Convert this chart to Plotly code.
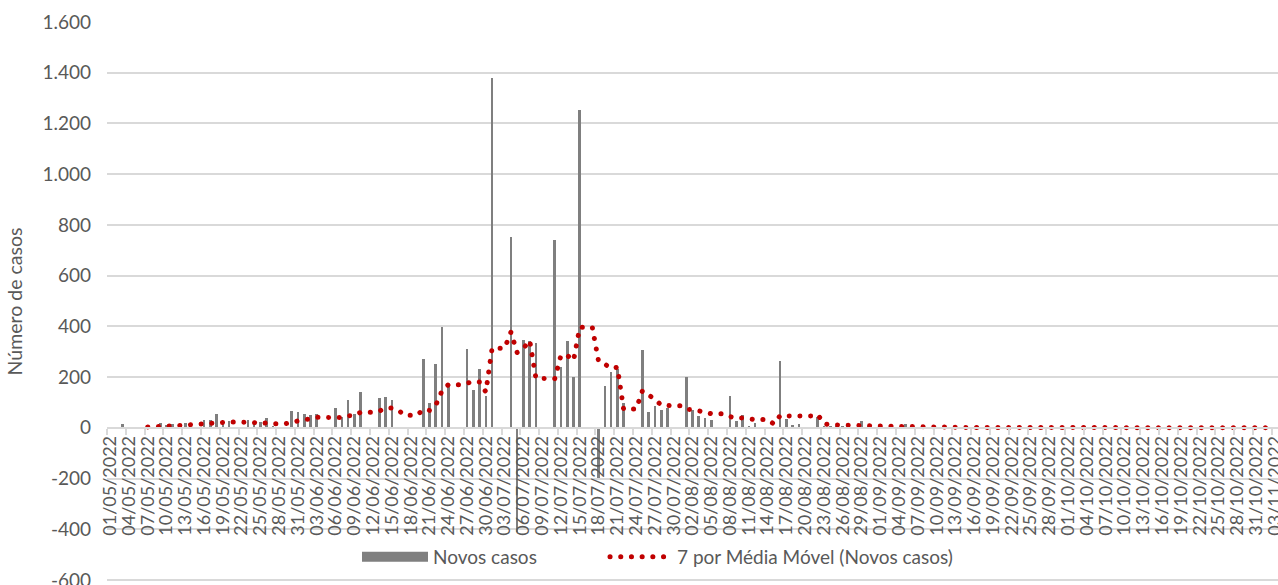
import pandas as pd
import plotly.express as px
import plotly.graph_objects as go

# ---------------- data ----------------
dates = pd.date_range("2022-05-01", "2022-11-03", freq="D")

# daily new cases (Sun..Sat rows)
novos_casos = [
    0, 2, 14, 3, 3, 3, 0,            # 01/05 - 07/05
    0, 18, 12, 16, 14, 18, 0,        # 08/05 - 14/05
    0, 32, 30, 54, 16, 28, 0,        # 15/05 - 21/05
    0, 30, 16, 24, 38, 7, 0,         # 22/05 - 28/05
    0, 67, 62, 55, 50, 54, 0,        # 29/05 - 04/06
    0, 80, 41, 110, 54, 142, 0,      # 05/06 - 11/06
    0, 117, 121, 110, 0, 0, 0,       # 12/06 - 18/06
    0, 272, 99, 252, 397, 170, 0,    # 19/06 - 25/06
    0, 312, 151, 233, 124, 1378, 0,  # 26/06 - 02/07
    0, 752, -410, 347, 343, 335, 0,  # 03/07 - 09/07
    0, 742, 238, 341, 200, 1252, 0,  # 10/07 - 16/07
    0, -197, 163, 222, 231, 97, 0,   # 17/07 - 23/07
    0, 308, 64, 87, 71, 78, 0,       # 24/07 - 30/07
    0, 202, 71, 47, 39, 29, 0,       # 31/07 - 06/08
    0, 124, 28, 50, 8, 18, 0,        # 07/08 - 13/08
    0, 0, 264, 34, 12, 16, 0,        # 14/08 - 20/08
    0, 41, 8, 6, 4, 6, 0,            # 21/08 - 27/08
    0, 28, 5, 3, 4, 3, 0,            # 28/08 - 03/09
    0, 17, 2, 3, 1, 2, 0,            # 04/09 - 10/09
    0, 3, 1, 2, 1, 1, 0,             # 11/09 - 17/09
    0, 2, 1, 1, 2, 0, 0,             # 18/09 - 24/09
    0, 2, 1, 0, 1, 1, 0,             # 25/09 - 01/10
    0, 1, 2, 1, 0, 1, 0,             # 02/10 - 08/10
    0, 2, 1, 0, 1, 1, 0,             # 09/10 - 15/10
    0, 1, 1, 1, 0, 1, 0,             # 16/10 - 22/10
    0, 1, 0, 1, 1, 0, 0,             # 23/10 - 29/10
    0, 1, 0, 1, 0,                   # 30/10 - 03/11
]

media_movel_janela = 7
nome_barras = "Novos casos"
nome_media = "7 por Média Móvel (Novos casos)"
titulo_y = "Número de casos"

y_tick_vals = [-600, -400, -200, 0, 200, 400, 600, 800, 1000, 1200, 1400, 1600]
y_tick_text = ["-600", "-400", "-200", "0", "200", "400", "600", "800",
               "1.000", "1.200", "1.400", "1.600"]

x_tick_dates = dates[::3]
x_tick_text = [d.strftime("%d/%m/%Y") for d in x_tick_dates]

# ---------------- figure ----------------
df = pd.DataFrame({"data": dates, "casos": novos_casos})

# moving-average trendline computed by plotly express (like Excel's trendline)
trend_fig = px.scatter(df, x="data", y="casos", trendline="rolling",
                       trendline_options=dict(window=media_movel_janela))
trend = trend_fig.data[1]

DAY = 86400000
GRID = "#d9d9d9"
TXT = "#595959"
BAR = "#7f7f7f"
RED = "#c00000"
FONT = "Lato"

fig = go.Figure()
fig.add_trace(go.Bar(
    x=df["data"], y=df["casos"], name=nome_barras,
    marker=dict(color=BAR, line=dict(width=0)),
    width=0.42 * DAY, showlegend=False,
))
fig.add_trace(go.Scatter(
    x=trend.x, y=trend.y, mode="lines", name=nome_media,
    line=dict(color=RED, width=5, dash="dot"),
    legend="legend2",
))
# legend proxy for the bars (wide grey swatch as in the original legend)
fig.add_trace(go.Scatter(
    x=[None], y=[None], mode="lines", name=nome_barras,
    line=dict(color=BAR, width=13), legend="legend",
))

legend_common = dict(
    orientation="h", yanchor="middle", xanchor="left", y=0.043,
    itemwidth=66, bgcolor="rgba(0,0,0,0)",
    font=dict(family=FONT, size=19, color=TXT),
)

fig.update_layout(
    width=1278, height=585,
    margin=dict(l=107, r=0, t=22, b=4, autoexpand=False),
    paper_bgcolor="white", plot_bgcolor="white",
    font=dict(family=FONT, size=18, color=TXT),
    bargap=0,
    showlegend=True,
    legend=dict(x=(357 - 107) / 1171, **legend_common),
    legend2=dict(x=(605 - 107) / 1171, **{**legend_common, "itemwidth": 62}),
    xaxis=dict(
        type="date",
        range=["2022-04-30 12:00", "2022-11-03 12:00"],
        anchor="free", position=(581 - 428) / 559,
        tickmode="array", tickvals=x_tick_dates, ticktext=x_tick_text,
        tickangle=-90, ticks="", ticklabeloverflow="allow",
        tickfont=dict(family=FONT, size=18, color=TXT),
        showline=True, linecolor=GRID, linewidth=1.5,
        showgrid=False, zeroline=False,
        minor=dict(ticks="outside", tick0="2022-04-30 12:00", dtick=3 * DAY,
                   ticklen=6, tickwidth=1.5, tickcolor=GRID, showgrid=False),
    ),
    yaxis=dict(
        range=[-604, 1600],
        tickmode="array", tickvals=y_tick_vals, ticktext=y_tick_text,
        ticks="", ticklabelstandoff=15, ticklabeloverflow="allow",
        tickfont=dict(family=FONT, size=19, color=TXT),
        showgrid=True, gridcolor=GRID, gridwidth=1.5,
        zeroline=False, showline=False,
        title=dict(text=titulo_y, font=dict(family=FONT, size=19.5, color=TXT), standoff=14),
    ),
)

post = """
document.body.style.margin = '0';
document.body.style.padding = '0';
var gd = document.getElementById('{plot_id}');
function roundDots(){
  gd.querySelectorAll('path.js-line').forEach(function(p){
    var s = (p.style.stroke || '').replace(/\\s/g, '');
    if (s === 'rgb(192,0,0)') {
      p.style.strokeLinecap = 'round';
      p.style.strokeDasharray = '0.1px,10.6px';
    }
  });
}
roundDots();
gd.on('plotly_afterplot', roundDots);
"""

fig.write_html("out.html", post_script=post, config={"displayModeBar": False})
